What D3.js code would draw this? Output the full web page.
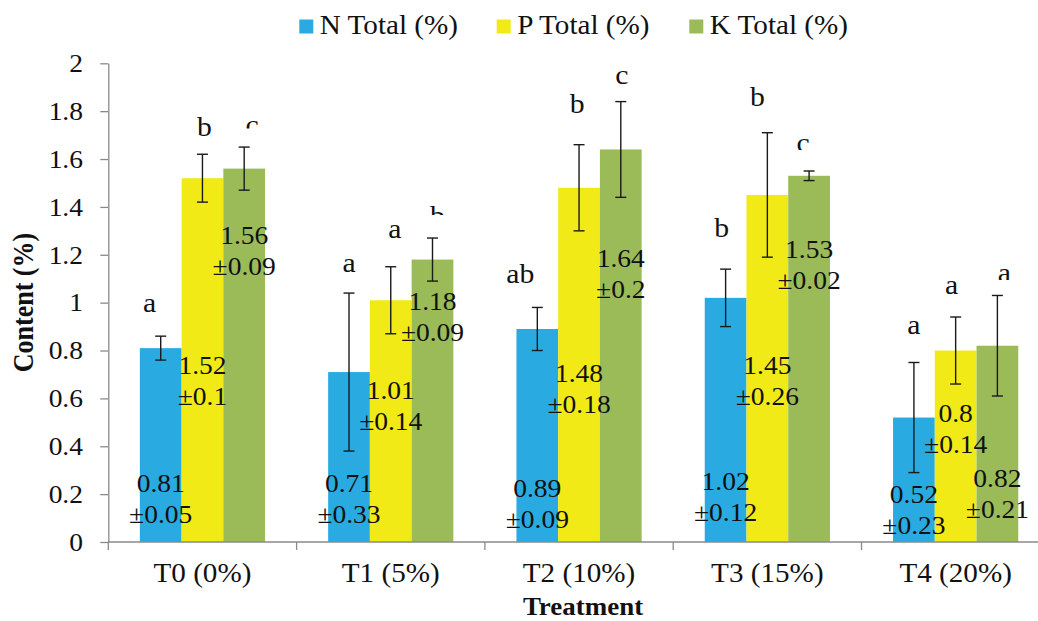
<!DOCTYPE html>
<html>
<head>
<meta charset="utf-8">
<script src="https://cdn.jsdelivr.net/npm/d3@7"></script>
<style>
  html, body { margin: 0; padding: 0; background: #fff; }
  svg { display: block; }
  text { font-family: "Liberation Serif", "Times New Roman", serif; fill: #111; }
</style>
</head>
<body>
<svg id="chart" width="1038" height="621"></svg>
<script>
// ---------- data ----------
const categories = ["T0 (0%)", "T1 (5%)", "T2 (10%)", "T3 (15%)", "T4 (20%)"];
const seriesNames = ["N Total (%)", "P Total (%)", "K Total (%)"];
const nTotal = [0.81, 0.71, 0.89, 1.02, 0.52];
const pTotal = [1.52, 1.01, 1.48, 1.45, 0.8];
const kTotal = [1.56, 1.18, 1.64, 1.53, 0.82];
const nErr = [0.05, 0.33, 0.09, 0.12, 0.23];
const pErr = [0.1, 0.14, 0.18, 0.26, 0.14];
const kErr = [0.09, 0.09, 0.2, 0.02, 0.21];
const nLetters = ["a", "a", "ab", "b", "a"];
const pLetters = ["b", "a", "b", "b", "a"];
const kLetters = ["c", "b", "c", "c", "a"];
const yTickValues = [0, 0.2, 0.4, 0.6, 0.8, 1, 1.2, 1.4, 1.6, 1.8, 2];
const yTickLabels = ["0", "0.2", "0.4", "0.6", "0.8", "1", "1.2", "1.4", "1.6", "1.8", "2"];

// annotation anchors, in content (%) units
const nLetterAt = [0.962, 1.128, 1.081, 1.275, 0.871];
const pLetterAt = [1.696, 1.272, 1.791, 1.822, 1.035];
const kLetterAt = [1.706, 1.326, 1.915, 1.63, 1.087];
const kLetterCutAt = [1.728, 1.366, null, 1.638, 1.095];
const nLabelAt = [0.21, 0.21, 0.189, 0.217, 0.161];
const pLabelAt = [0.701, 0.597, 0.67, 0.7, 0.502];
const kLabelAt = [1.247, 0.97, 1.15, 1.185, 0.228];

// ---------- layout ----------
const SX = 1.1;                    // horizontal text stretch of the original
const colors = ["#29ABE2", "#F2EA17", "#9BBB59"];
const plot = { left: 108.3, right: 1049.8, top: 63.3, bottom: 542 };
// small horizontal nudges of the significance letters (px), [series][category]
const letterNudge = [[-11, 0, -17, -4, 0], [2, 4, -2, -10, -4], [8, 5, 1, -6, 7]];

const svg = d3.select("#chart");

const y = d3.scaleLinear().domain([0, 2]).range([plot.bottom, plot.top]);
const x0 = d3.scaleBand().domain(categories)
  .range([plot.left, plot.right]).paddingInner(0.335).paddingOuter(0.1675);
const x1 = d3.scaleBand().domain(seriesNames).range([0, x0.bandwidth()]);
const color = d3.scaleOrdinal().domain(seriesNames).range(colors);

const values = [nTotal, pTotal, kTotal];
const errs = [nErr, pErr, kErr];
const letters = [nLetters, pLetters, kLetters];
const letterAt = [nLetterAt, pLetterAt, kLetterAt];
const labelAt = [nLabelAt, pLabelAt, kLabelAt];

const rows = [];
categories.forEach((c, i) => {
  seriesNames.forEach((s, j) => {
    rows.push({ cat: c, ser: s, i, j, v: values[j][i], e: errs[j][i],
      letter: letters[j][i], letterY: letterAt[j][i], labelY: labelAt[j][i],
      cut: j === 2 ? kLetterCutAt[i] : null });
  });
});
const cx = d => x0(d.cat) + x1(d.ser) + x1.bandwidth() / 2;

function stext(parent, x, yy, str, size, opts = {}) {
  return parent.append("text")
    .attr("transform", `translate(${x},${yy}) scale(${SX},1)`)
    .attr("text-anchor", opts.anchor || "middle")
    .style("font-size", size + "px")
    .style("font-weight", opts.bold ? "bold" : "normal")
    .text(str);
}

// ---------- bars ----------
svg.append("g").selectAll("rect").data(rows).join("rect")
  .attr("x", d => x0(d.cat) + x1(d.ser))
  .attr("width", x1.bandwidth())
  .attr("y", d => y(d.v))
  .attr("height", d => y(0) - y(d.v))
  .attr("fill", d => color(d.ser));

// ---------- axes ----------
const axisColor = "#8a8a8a";
const yAxis = svg.append("g")
  .attr("transform", `translate(${plot.left},0)`)
  .call(d3.axisLeft(y).tickValues(yTickValues)
    .tickFormat((d, k) => yTickLabels[k]).tickSize(8).tickSizeOuter(0));
yAxis.select(".domain").attr("stroke", axisColor).attr("stroke-width", 1.3);
yAxis.selectAll(".tick line").attr("stroke", axisColor).attr("stroke-width", 1.3);
yAxis.selectAll(".tick text")
  .attr("x", null).attr("dy", "0.33em")
  .attr("transform", `translate(-25.3,0) scale(${SX},1)`)
  .style("font-size", "25px")
  .style("font-family", '"Liberation Serif", "Times New Roman", serif')
  .attr("fill", "#111");

// x axis line and boundary ticks
const xg = svg.append("g");
xg.append("line")
  .attr("x1", plot.left).attr("x2", plot.right)
  .attr("y1", y(0)).attr("y2", y(0))
  .attr("stroke", axisColor).attr("stroke-width", 1.3);
const bounds = d3.range(categories.length + 1).map(k =>
  k < categories.length ? x0(categories[k]) - x0.step() * x0.paddingInner() / 2
                        : x0(categories[k - 1]) + x0.bandwidth() + x0.step() * x0.paddingInner() / 2);
xg.selectAll("line.tk").data(bounds).join("line").attr("class", "tk")
  .attr("x1", d => d).attr("x2", d => d)
  .attr("y1", y(0)).attr("y2", y(0) + 8)
  .attr("stroke", axisColor).attr("stroke-width", 1.3);
categories.forEach(c => {
  stext(xg, x0(c) + x0.bandwidth() / 2, 582, c, 26.5);
});

// axis titles
stext(svg, 583, 615, "Treatment", 24.5, { bold: true });
svg.append("text")
  .attr("transform", `translate(33,302.5) scale(${SX},1) rotate(-90)`)
  .attr("text-anchor", "middle")
  .style("font-size", "26px").style("font-weight", "bold")
  .text("Content (%)");

// ---------- error bars ----------
const eb = svg.append("g").attr("stroke", "#1a1a1a").attr("stroke-width", 1.4);
rows.forEach(d => {
  const xc = cx(d), yt = y(d.v + d.e), yb = y(d.v - d.e);
  eb.append("line").attr("x1", xc).attr("x2", xc).attr("y1", yt).attr("y2", yb);
  eb.append("line").attr("x1", xc - 5.5).attr("x2", xc + 5.5).attr("y1", yt).attr("y2", yt);
  eb.append("line").attr("x1", xc - 5.5).attr("x2", xc + 5.5).attr("y1", yb).attr("y2", yb);
});

// ---------- value labels ----------
const lab = svg.append("g");
rows.forEach(d => {
  const yy = y(d.labelY);
  stext(lab, cx(d), yy, String(d.v), 25);
  stext(lab, cx(d), yy + 31, "±" + d.e, 25);
});

// ---------- significance letters ----------
const defs = svg.append("defs");
const let_ = svg.append("g");
rows.forEach((d, k) => {
  const lx = cx(d) + letterNudge[d.j][d.i];
  const t = stext(let_, lx, y(d.letterY), d.letter, 27);
  if (d.cut != null) {
    const id = "cut" + k;
    defs.append("clipPath").attr("id", id).append("rect")
      .attr("x", lx - 30).attr("width", 60)
      .attr("y", 0).attr("height", y(d.cut));
    const wrap = let_.append("g").attr("clip-path", `url(#${id})`);
    wrap.node().appendChild(t.node());
  }
});

// ---------- legend ----------
const legendX = [299.3, 496.7, 689.3];
const leg = svg.append("g");
seriesNames.forEach((s, j) => {
  leg.append("rect").attr("x", legendX[j]).attr("y", 19.5)
    .attr("width", 14).attr("height", 14).attr("fill", color(s));
  stext(leg, legendX[j] + 20.5, 33.5, s, 26.5, { anchor: "start" });
});
</script>
</body>
</html>
